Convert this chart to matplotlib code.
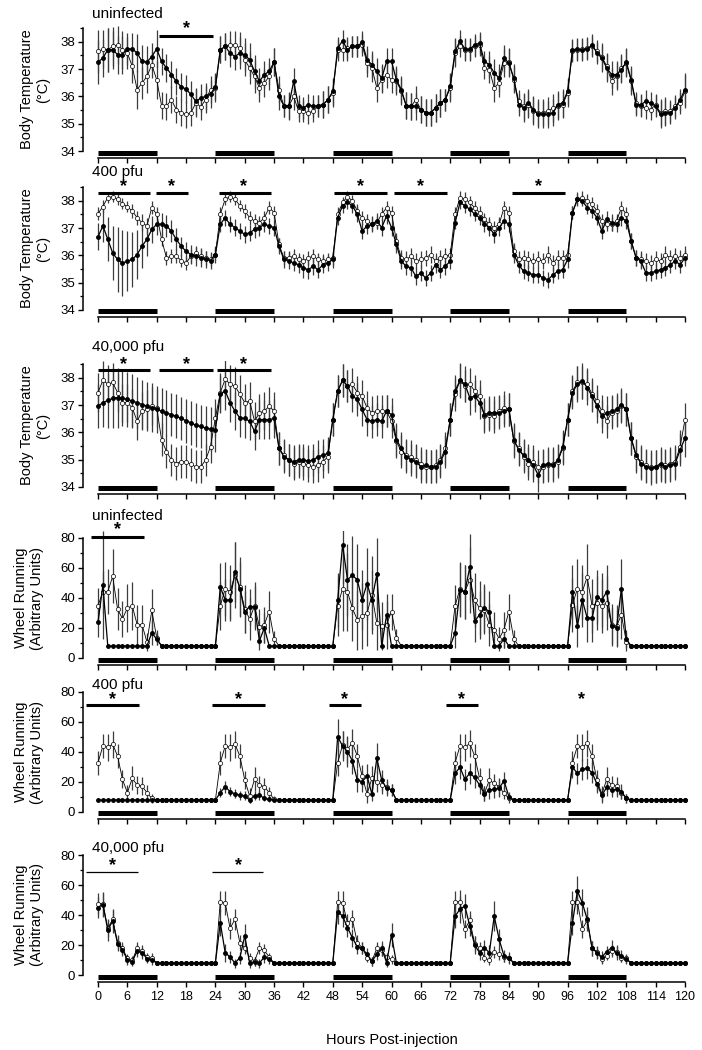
import numpy as np
import matplotlib
matplotlib.use("Agg")
import matplotlib.pyplot as plt
from matplotlib.ticker import MultipleLocator

plt.rcParams['font.family'] = ['Liberation Sans', 'DejaVu Sans']

hours = np.arange(121)
dark_start = [0, 24, 48, 72, 96]
dark_len = 12

# ---------------- body temperature (deg C), filled / open symbols
temp_uninf_f = [
    37.26, 37.40, 37.71, 37.71, 37.53, 37.53, 37.74, 37.74, 37.59, 37.28, 37.26, 37.46,
    37.74, 37.28, 37.04, 36.80, 36.55, 36.35, 36.27, 36.07, 35.82, 35.94, 36.00, 36.09,
    36.35, 37.71, 37.83, 37.59, 37.46, 37.59, 37.53, 37.34, 36.92, 36.55, 36.80, 36.92,
    37.26, 36.00, 35.66, 35.66, 36.55, 35.64, 35.58, 35.70, 35.64, 35.66, 35.70, 35.88,
    36.19, 37.77, 38.04, 37.71, 37.83, 37.83, 37.98, 37.34, 37.16, 36.92, 36.67, 37.28,
    37.28, 36.61, 36.25, 35.66, 35.64, 35.64, 35.52, 35.40, 35.40, 35.58, 35.76, 35.88,
    36.37, 37.65, 38.04, 37.73, 37.73, 37.89, 37.95, 37.28, 37.16, 36.86, 36.67, 37.40,
    37.22, 36.67, 35.70, 35.58, 35.76, 35.52, 35.34, 35.34, 35.34, 35.40, 35.70, 35.76,
    36.19, 37.71, 37.73, 37.71, 37.73, 37.89, 37.59, 37.40, 37.04, 36.80, 36.80, 36.98,
    37.26, 36.61, 35.70, 35.70, 35.82, 35.76, 35.64, 35.34, 35.40, 35.40, 35.58, 35.88,
    36.25]
temp_uninf_o = [
    37.65, 37.73, 37.71, 37.83, 37.89, 37.71, 37.59, 37.10, 36.25, 36.49, 36.73, 37.16,
    36.61, 35.66, 35.64, 35.88, 35.52, 35.40, 35.34, 35.40, 35.76, 35.62, 35.88, 36.25,
    36.30, 37.71, 37.83, 37.89, 37.89, 37.77, 37.34, 37.04, 36.73, 36.31, 36.49, 36.73,
    37.26, 36.25, 35.64, 35.64, 36.00, 35.46, 35.46, 35.40, 35.46, 35.64, 35.70, 35.88,
    36.13, 37.71, 37.71, 37.77, 37.83, 37.83, 37.89, 37.22, 37.04, 36.31, 36.61, 36.80,
    36.61, 36.55, 36.19, 35.66, 35.64, 35.88, 35.52, 35.40, 35.40, 35.58, 35.76, 35.88,
    36.31, 37.59, 37.83, 37.71, 37.71, 37.83, 37.89, 37.04, 36.98, 36.31, 36.49, 37.22,
    37.26, 36.61, 35.82, 35.64, 35.70, 35.46, 35.40, 35.40, 35.46, 35.58, 35.64, 35.70,
    36.13, 37.65, 37.71, 37.73, 37.77, 37.83, 37.65, 37.46, 37.10, 36.55, 36.73, 37.04,
    37.22, 36.55, 35.76, 35.64, 35.58, 35.52, 35.70, 35.40, 35.46, 35.46, 35.64, 35.76,
    36.19]
temp_uninf_err = [
    0.8, 0.7, 0.8, 0.7, 0.7, 0.7, 0.6, 0.6, 0.7, 0.6, 0.6, 0.5,
    0.7, 0.5, 0.5, 0.5, 0.5, 0.5, 0.5, 0.5, 0.5, 0.5, 0.5, 0.5,
    0.5, 0.5, 0.5, 0.5, 0.5, 0.6, 0.6, 0.6, 0.6, 0.5, 0.5, 0.5,
    0.5, 0.5, 0.4, 0.5, 0.5, 0.4, 0.4, 0.4, 0.4, 0.4, 0.5, 0.5,
    0.5, 0.4, 0.4, 0.4, 0.4, 0.4, 0.4, 0.5, 0.5, 0.5, 0.5, 0.5,
    0.5, 0.5, 0.5, 0.5, 0.5, 0.5, 0.5, 0.5, 0.5, 0.5, 0.5, 0.4,
    0.5, 0.5, 0.4, 0.4, 0.4, 0.4, 0.4, 0.4, 0.5, 0.5, 0.5, 0.5,
    0.5, 0.5, 0.4, 0.5, 0.5, 0.5, 0.5, 0.5, 0.5, 0.5, 0.5, 0.5,
    0.5, 0.4, 0.4, 0.4, 0.4, 0.4, 0.4, 0.5, 0.5, 0.5, 0.5, 0.5,
    0.5, 0.5, 0.4, 0.4, 0.4, 0.4, 0.4, 0.5, 0.5, 0.4, 0.4, 0.4,
    0.6]

temp_400_f = [
    36.68, 37.08, 36.59, 36.09, 35.85, 35.72, 35.79, 35.85, 36.03, 36.34, 36.59, 36.95,
    37.14, 37.14, 37.08, 36.89, 36.59, 36.34, 36.15, 36.03, 35.97, 35.91, 35.85, 35.81,
    36.03, 37.14, 37.38, 37.14, 37.02, 36.89, 36.77, 36.83, 36.95, 37.02, 37.14, 37.08,
    37.02, 36.34, 35.85, 35.81, 35.72, 35.66, 35.54, 35.48, 35.60, 35.48, 35.66, 35.72,
    35.85, 37.38, 37.82, 37.94, 37.82, 37.51, 36.89, 37.08, 37.14, 37.26, 37.02, 37.45,
    37.02, 36.40, 35.79, 35.60, 35.54, 35.23, 35.36, 35.17, 35.36, 35.66, 35.48, 35.60,
    35.79, 37.20, 37.94, 37.82, 37.69, 37.51, 37.38, 37.14, 37.02, 36.77, 37.02, 37.26,
    37.14, 36.03, 35.66, 35.42, 35.36, 35.29, 35.29, 35.17, 35.11, 35.29, 35.42, 35.48,
    35.85, 37.57, 38.06, 38.00, 37.75, 37.63, 37.38, 36.89, 37.32, 37.20, 37.14, 37.38,
    37.26, 36.52, 35.91, 35.79, 35.36, 35.36, 35.42, 35.48, 35.54, 35.66, 35.79, 35.66,
    35.91]
temp_400_o = [
    37.53, 37.79, 38.12, 38.15, 38.06, 37.90, 37.78, 37.63, 37.38, 37.20, 37.08, 37.75,
    37.51, 36.59, 35.91, 35.97, 35.97, 35.81, 35.72, 35.97, 36.09, 35.97, 35.91, 35.85,
    36.03, 37.51, 38.06, 38.15, 38.06, 37.82, 37.63, 37.38, 37.26, 37.20, 37.38, 37.75,
    37.57, 36.40, 35.91, 35.91, 35.97, 35.85, 35.79, 35.91, 35.97, 35.85, 35.79, 35.85,
    35.91, 37.51, 37.94, 38.15, 38.00, 37.63, 37.38, 37.26, 37.14, 37.20, 37.51, 37.75,
    37.57, 36.52, 35.91, 35.85, 35.97, 35.79, 35.85, 35.91, 36.03, 35.79, 35.91, 35.97,
    36.03, 37.51, 38.12, 38.06, 37.94, 37.75, 37.57, 37.32, 37.14, 37.02, 37.14, 37.75,
    37.57, 36.15, 35.85, 35.91, 35.85, 35.79, 35.85, 35.79, 36.03, 35.72, 35.91, 35.91,
    36.03, 37.57, 38.06, 38.12, 38.00, 37.88, 37.63, 37.26, 37.14, 37.14, 37.26, 37.75,
    37.51, 36.52, 35.91, 35.85, 35.79, 35.72, 35.85, 35.79, 36.03, 35.91, 35.97, 35.91,
    36.03]
temp_400_f_err = [
    0.5, 0.6, 0.8, 1.0, 1.2, 1.2, 1.1, 1.0, 0.9, 0.8, 0.6, 0.5,
    0.4, 0.4, 0.4, 0.4, 0.4, 0.35, 0.35, 0.35, 0.35, 0.35, 0.3, 0.3,
    0.3, 0.3, 0.3, 0.3, 0.3, 0.3, 0.3, 0.3, 0.3, 0.3, 0.3, 0.3,
    0.3, 0.3, 0.3, 0.3, 0.3, 0.3, 0.35, 0.35, 0.3, 0.3, 0.3, 0.3,
    0.3, 0.25, 0.25, 0.25, 0.25, 0.3, 0.3, 0.3, 0.3, 0.3, 0.3, 0.3,
    0.3, 0.3, 0.3, 0.3, 0.3, 0.3, 0.3, 0.3, 0.3, 0.3, 0.3, 0.3,
    0.3, 0.25, 0.25, 0.25, 0.25, 0.25, 0.25, 0.3, 0.3, 0.3, 0.3, 0.3,
    0.3, 0.3, 0.3, 0.3, 0.3, 0.3, 0.3, 0.3, 0.3, 0.3, 0.3, 0.3,
    0.3, 0.25, 0.2, 0.2, 0.25, 0.25, 0.25, 0.3, 0.3, 0.3, 0.3, 0.3,
    0.3, 0.3, 0.3, 0.3, 0.3, 0.3, 0.3, 0.3, 0.3, 0.3, 0.3, 0.3,
    0.3]
temp_400_o_err = [
    0.25, 0.25, 0.2, 0.2, 0.2, 0.2, 0.2, 0.25, 0.25, 0.3, 0.3, 0.25,
    0.25, 0.25, 0.25, 0.25, 0.25, 0.25, 0.25, 0.25, 0.25, 0.25, 0.25, 0.25,
    0.25, 0.25, 0.2, 0.2, 0.2, 0.2, 0.25, 0.25, 0.25, 0.25, 0.25, 0.25,
    0.25, 0.25, 0.25, 0.25, 0.25, 0.25, 0.25, 0.25, 0.25, 0.25, 0.25, 0.25,
    0.25, 0.25, 0.2, 0.2, 0.2, 0.25, 0.25, 0.25, 0.25, 0.25, 0.25, 0.25,
    0.25, 0.3, 0.3, 0.3, 0.3, 0.3, 0.3, 0.3, 0.3, 0.3, 0.3, 0.3,
    0.25, 0.25, 0.25, 0.25, 0.25, 0.25, 0.25, 0.25, 0.25, 0.25, 0.25, 0.25,
    0.25, 0.3, 0.3, 0.3, 0.3, 0.3, 0.3, 0.3, 0.3, 0.3, 0.3, 0.3,
    0.25, 0.25, 0.25, 0.25, 0.25, 0.25, 0.25, 0.25, 0.25, 0.25, 0.25, 0.25,
    0.25, 0.3, 0.3, 0.3, 0.3, 0.3, 0.3, 0.3, 0.3, 0.3, 0.3, 0.3,
    0.3]

temp_40k_f = [
    36.96, 37.09, 37.17, 37.25, 37.27, 37.25, 37.21, 37.15, 37.09, 37.02, 36.96, 36.90,
    36.84, 36.78, 36.72, 36.65, 36.59, 36.51, 36.43, 36.35, 36.26, 36.22, 36.16, 36.12,
    36.10, 37.40, 37.52, 37.09, 36.78, 36.53, 36.51, 36.41, 36.04, 36.47, 36.47, 36.47,
    36.51, 35.42, 35.11, 34.99, 34.93, 34.99, 34.99, 34.95, 34.99, 35.11, 35.17, 35.23,
    36.47, 37.52, 37.91, 37.70, 37.33, 37.21, 36.84, 36.47, 36.41, 36.47, 36.41, 36.78,
    36.65, 35.73, 35.42, 35.11, 34.99, 34.93, 34.74, 34.80, 34.74, 34.74, 34.93, 35.30,
    36.47, 37.52, 37.91, 37.77, 37.27, 37.33, 37.09, 36.65, 36.72, 36.72, 36.72, 36.78,
    36.84, 35.73, 35.36, 35.17, 34.99, 34.80, 34.43, 34.80, 34.86, 34.80, 34.99, 35.48,
    36.47, 37.46, 37.77, 37.89, 37.64, 37.33, 36.96, 36.59, 36.72, 36.78, 36.84, 37.02,
    36.84, 35.79, 35.17, 34.86, 34.74, 34.68, 34.74, 34.86, 34.74, 34.80, 34.86, 35.36,
    35.79]
temp_40k_o = [
    37.46, 37.91, 37.77, 37.83, 37.46, 37.09, 37.09, 36.90, 36.41, 36.78, 36.84, 36.96,
    36.90, 35.73, 35.30, 34.99, 34.86, 34.93, 34.93, 34.83, 34.74, 34.74, 34.99, 35.48,
    36.53, 37.46, 37.95, 37.77, 37.70, 37.40, 37.09, 37.15, 36.41, 36.72, 36.78, 36.96,
    36.78, 35.42, 35.17, 34.99, 34.86, 34.93, 34.86, 34.80, 34.74, 34.80, 34.93, 35.11,
    36.47, 37.52, 37.91, 37.70, 37.77, 37.46, 37.33, 36.90, 36.72, 36.78, 36.78, 36.78,
    36.41, 35.67, 35.30, 35.17, 35.11, 34.99, 34.86, 34.74, 34.74, 34.80, 34.99, 35.42,
    36.47, 37.40, 37.89, 37.70, 37.77, 37.52, 37.33, 36.59, 36.65, 36.59, 36.78, 36.90,
    36.84, 35.67, 35.42, 35.11, 34.86, 34.93, 34.74, 34.74, 34.80, 34.86, 34.93, 35.42,
    36.47, 37.52, 37.83, 37.83, 37.77, 37.40, 37.15, 36.78, 36.41, 36.72, 36.78, 36.96,
    36.84, 35.79, 35.11, 34.93, 34.80, 34.74, 34.74, 34.80, 34.80, 34.86, 34.93, 35.48,
    36.47]
temp_40k_f_err = [
    0.8, 0.9, 1.0, 1.1, 1.1, 1.0, 1.0, 1.0, 0.95, 0.9, 0.9, 0.9,
    0.85, 0.85, 0.85, 0.8, 0.8, 0.8, 0.8, 0.8, 0.8, 0.8, 0.8, 0.8,
    0.8, 0.7, 0.7, 0.7, 0.7, 0.7, 0.7, 0.7, 0.7, 0.7, 0.7, 0.7,
    0.7, 0.6, 0.6, 0.6, 0.6, 0.6, 0.6, 0.6, 0.6, 0.6, 0.6, 0.6,
    0.6, 0.6, 0.6, 0.6, 0.6, 0.6, 0.6, 0.6, 0.6, 0.6, 0.6, 0.6,
    0.6, 0.6, 0.6, 0.6, 0.6, 0.6, 0.6, 0.6, 0.6, 0.6, 0.6, 0.6,
    0.6, 0.6, 0.65, 0.65, 0.65, 0.6, 0.6, 0.6, 0.6, 0.6, 0.6, 0.6,
    0.6, 0.6, 0.6, 0.6, 0.6, 0.6, 0.6, 0.6, 0.6, 0.6, 0.6, 0.6,
    0.6, 0.6, 0.65, 0.65, 0.65, 0.6, 0.6, 0.6, 0.6, 0.6, 0.6, 0.6,
    0.6, 0.6, 0.6, 0.6, 0.6, 0.6, 0.6, 0.6, 0.6, 0.6, 0.6, 0.6,
    0.7]
temp_40k_o_err = [
    0.7, 0.7, 0.7, 0.7, 0.7, 0.7, 0.7, 0.7, 0.7, 0.7, 0.7, 0.7,
    0.7, 0.6, 0.6, 0.6, 0.6, 0.6, 0.6, 0.6, 0.6, 0.6, 0.6, 0.6,
    0.7, 0.7, 0.7, 0.7, 0.7, 0.7, 0.7, 0.7, 0.7, 0.7, 0.7, 0.7,
    0.7, 0.6, 0.6, 0.6, 0.6, 0.6, 0.6, 0.6, 0.6, 0.6, 0.6, 0.6,
    0.6, 0.6, 0.6, 0.6, 0.6, 0.6, 0.6, 0.6, 0.6, 0.6, 0.6, 0.6,
    0.6, 0.6, 0.6, 0.6, 0.6, 0.6, 0.6, 0.6, 0.6, 0.6, 0.6, 0.6,
    0.6, 0.6, 0.6, 0.6, 0.6, 0.6, 0.6, 0.6, 0.6, 0.6, 0.6, 0.6,
    0.6, 0.6, 0.6, 0.6, 0.6, 0.6, 0.6, 0.6, 0.6, 0.6, 0.6, 0.6,
    0.6, 0.6, 0.6, 0.6, 0.6, 0.6, 0.6, 0.6, 0.6, 0.6, 0.6, 0.6,
    0.6, 0.6, 0.6, 0.6, 0.6, 0.6, 0.6, 0.6, 0.6, 0.6, 0.6, 0.6,
    0.6]

# ---------------- wheel running (arbitrary units), filled / open symbols
wheel_uninf_f = [
    23.8, 48.5, 8, 8, 8, 8, 8, 8, 8, 8, 8, 16.8,
    12.5, 8, 8, 8, 8, 8, 8, 8, 8, 8, 8, 8,
    8, 47.4, 38.7, 38.7, 57.3, 46.3, 31.0, 34.3, 34.3, 11.4, 20.1, 8,
    8, 8, 8, 8, 8, 8, 8, 8, 8, 8, 8, 8,
    8, 38.7, 75.4, 52.2, 55.1, 52.2, 38.7, 49.6, 38.7, 55.7, 8, 28.9,
    8, 8, 8, 8, 8, 8, 8, 8, 8, 8, 8, 8,
    8, 16.8, 45.2, 44.2, 60.5, 24.5, 28.9, 33.2, 31.0, 8, 8, 12.9,
    8, 8, 8, 8, 8, 8, 8, 8, 8, 8, 8, 8,
    8, 44.2, 21.2, 38.7, 26.7, 26.7, 40.9, 38.7, 44.2, 21.6, 20.1, 46.3,
    12.5, 8, 8, 8, 8, 8, 8, 8, 8, 8, 8, 8,
    8]
wheel_uninf_o = [
    34.8, 44.2, 44.2, 54.4, 32.6, 26.2, 33.2, 34.8, 22.3, 22.3, 10.7, 31.7,
    13.6, 8, 8, 8, 8, 8, 8, 8, 8, 8, 8, 8,
    8, 34.8, 46.3, 44.2, 55.1, 47.4, 32.6, 26.0, 34.8, 20.8, 22.3, 31.0,
    12.9, 8, 8, 8, 8, 8, 8, 8, 8, 8, 8, 8,
    8, 34.8, 46.3, 44.2, 33.2, 25.6, 27.8, 29.9, 42.0, 23.4, 21.6, 22.3,
    31.0, 13.6, 8, 8, 8, 8, 8, 8, 8, 8, 8, 8,
    8, 34.8, 46.3, 44.2, 52.2, 38.7, 33.2, 32.1, 22.3, 19.0, 12.9, 19.0,
    31.0, 12.9, 8, 8, 8, 8, 8, 8, 8, 8, 8, 8,
    8, 35.4, 46.3, 44.2, 54.0, 34.8, 36.5, 34.8, 36.9, 22.1, 21.2, 28.9,
    10.7, 8, 8, 8, 8, 8, 8, 8, 8, 8, 8, 8,
    8]
wheel_uninf_f_err = [
    10, 36, 0, 0, 0, 0, 0, 0, 0, 0, 0, 8,
    4, 0, 0, 0, 0, 0, 0, 0, 0, 0, 0, 0,
    0, 16, 14, 14, 20, 18, 14, 12, 14, 6, 10, 0,
    0, 0, 0, 0, 0, 0, 0, 0, 0, 0, 0, 0,
    0, 18, 26, 24, 26, 24, 20, 24, 20, 24, 0, 14,
    0, 0, 0, 0, 0, 0, 0, 0, 0, 0, 0, 0,
    0, 10, 18, 18, 22, 14, 16, 16, 14, 0, 0, 6,
    0, 0, 0, 0, 0, 0, 0, 0, 0, 0, 0, 0,
    0, 18, 14, 18, 16, 16, 18, 18, 18, 12, 12, 20,
    6, 0, 0, 0, 0, 0, 0, 0, 0, 0, 0, 0,
    0]
wheel_uninf_o_err = [
    12, 14, 15, 18, 14, 12, 16, 16, 13, 13, 6, 14,
    5, 0, 0, 0, 0, 0, 0, 0, 0, 0, 0, 0,
    0, 16, 18, 18, 22, 20, 16, 14, 16, 12, 12, 14,
    5, 0, 0, 0, 0, 0, 0, 0, 0, 0, 0, 0,
    0, 20, 28, 26, 22, 20, 22, 22, 26, 18, 16, 16,
    12, 6, 0, 0, 0, 0, 0, 0, 0, 0, 0, 0,
    0, 14, 18, 18, 22, 18, 18, 16, 14, 12, 8, 12,
    12, 6, 0, 0, 0, 0, 0, 0, 0, 0, 0, 0,
    0, 18, 20, 18, 22, 18, 18, 18, 18, 14, 14, 16,
    6, 0, 0, 0, 0, 0, 0, 0, 0, 0, 0, 0,
    0]

wheel_400_f = [
    8, 8, 8, 8, 8, 8, 8, 8, 8, 8, 8, 8,
    8, 8, 8, 8, 8, 8, 8, 8, 8, 8, 8, 8,
    8, 12.9, 16.9, 13.6, 12.0, 11.3, 10.7, 8.0, 10.7, 11.3, 9.1, 8.4,
    8, 8, 8, 8, 8, 8, 8, 8, 8, 8, 8, 8,
    8, 50.2, 44.0, 40.2, 34.2, 21.3, 20.2, 24.0, 12.0, 35.8, 21.3, 15.8,
    14.7, 8, 8, 8, 8, 8, 8, 8, 8, 8, 8, 8,
    8, 25.8, 29.8, 21.8, 25.8, 23.1, 18.0, 12.0, 14.7, 15.1, 15.8, 20.9,
    10.2, 8, 8, 8, 8, 8, 8, 8, 8, 8, 8, 8,
    8, 29.8, 25.8, 28.4, 29.1, 26.2, 18.7, 11.3, 16.4, 14.7, 15.1, 13.6,
    9.1, 8, 8, 8, 8, 8, 8, 8, 8, 8, 8, 8,
    8]
wheel_400_o = [
    32.9, 44.0, 43.1, 45.3, 37.3, 21.8, 12.9, 22.4, 18.0, 17.3, 12.9, 9.1,
    8, 8, 8, 8, 8, 8, 8, 8, 8, 8, 8, 8,
    8, 32.9, 44.0, 43.1, 45.3, 37.3, 21.3, 10.7, 21.8, 18.0, 16.9, 12.9,
    8.4, 8, 8, 8, 8, 8, 8, 8, 8, 8, 8, 8,
    8, 32.9, 44.7, 41.8, 46.2, 37.3, 24.0, 12.0, 22.4, 20.2, 18.0, 16.9,
    14.7, 8, 8, 8, 8, 8, 8, 8, 8, 8, 8, 8,
    8, 32.9, 44.0, 43.1, 45.8, 37.3, 22.4, 12.4, 21.3, 19.1, 16.9, 12.4,
    9.1, 8, 8, 8, 8, 8, 8, 8, 8, 8, 8, 8,
    8, 32.9, 44.0, 43.1, 45.8, 37.3, 21.3, 12.0, 21.8, 18.0, 17.3, 12.9,
    9.1, 8, 8, 8, 8, 8, 8, 8, 8, 8, 8, 8,
    8]
wheel_400_f_err = [
    0, 0, 0, 0, 0, 0, 0, 0, 0, 0, 0, 0,
    0, 0, 0, 0, 0, 0, 0, 0, 0, 0, 0, 0,
    0, 3, 4, 3, 3, 3, 3, 2, 3, 3, 2, 2,
    0, 0, 0, 0, 0, 0, 0, 0, 0, 0, 0, 0,
    0, 12, 10, 10, 9, 8, 7, 8, 5, 10, 7, 5,
    4, 0, 0, 0, 0, 0, 0, 0, 0, 0, 0, 0,
    0, 7, 8, 7, 7, 7, 6, 5, 6, 6, 6, 6,
    3, 0, 0, 0, 0, 0, 0, 0, 0, 0, 0, 0,
    0, 7, 7, 7, 7, 7, 6, 5, 6, 5, 5, 5,
    3, 0, 0, 0, 0, 0, 0, 0, 0, 0, 0, 0,
    0]
wheel_400_o_err = [
    8, 8, 9, 9, 8, 6, 5, 8, 6, 6, 5, 3,
    0, 0, 0, 0, 0, 0, 0, 0, 0, 0, 0, 0,
    0, 8, 8, 9, 9, 8, 6, 5, 8, 6, 6, 4,
    2, 0, 0, 0, 0, 0, 0, 0, 0, 0, 0, 0,
    0, 9, 9, 9, 9, 8, 7, 6, 8, 7, 6, 5,
    4, 0, 0, 0, 0, 0, 0, 0, 0, 0, 0, 0,
    0, 8, 8, 9, 9, 8, 7, 5, 8, 6, 6, 4,
    3, 0, 0, 0, 0, 0, 0, 0, 0, 0, 0, 0,
    0, 8, 8, 9, 9, 8, 7, 5, 8, 6, 6, 4,
    3, 0, 0, 0, 0, 0, 0, 0, 0, 0, 0, 0,
    0]

wheel_40k_f = [
    45.0, 47.0, 30.0, 36.0, 21.0, 17.0, 10.0, 9.0, 16.0, 15.0, 11.0, 10.0,
    8, 8, 8, 8, 8, 8, 8, 8, 8, 8, 8, 8,
    8, 34.9, 14.9, 12.0, 8.0, 11.6, 26.0, 8.0, 8.9, 8.0, 12.0, 10.4,
    8, 8, 8, 8, 8, 8, 8, 8, 8, 8, 8, 8,
    8, 42.2, 39.3, 31.6, 24.9, 18.7, 17.8, 13.8, 9.3, 13.8, 17.8, 8.2,
    26.7, 8, 8, 8, 8, 8, 8, 8, 8, 8, 8, 8,
    8, 39.3, 43.8, 46.0, 32.7, 20.0, 14.9, 18.2, 14.9, 39.3, 23.8, 12.7,
    11.6, 8, 8, 8, 8, 8, 8, 8, 8, 8, 8, 8,
    8, 34.9, 56.0, 48.2, 37.1, 17.8, 14.9, 12.0, 15.6, 18.2, 14.9, 12.7,
    10.4, 8, 8, 8, 8, 8, 8, 8, 8, 8, 8, 8,
    8]
wheel_40k_o = [
    47.6, 47.6, 31.1, 37.1, 21.6, 17.8, 11.1, 9.8, 17.8, 16.0, 12.0, 11.6,
    8, 8, 8, 8, 8, 8, 8, 8, 8, 8, 8, 8,
    8, 48.9, 48.2, 31.1, 37.1, 21.6, 18.2, 11.6, 9.3, 17.8, 16.4, 12.0,
    8, 8, 8, 8, 8, 8, 8, 8, 8, 8, 8, 8,
    8, 48.9, 48.2, 34.9, 37.1, 21.6, 18.2, 11.6, 9.3, 17.8, 16.4, 12.0,
    10.4, 8, 8, 8, 8, 8, 8, 8, 8, 8, 8, 8,
    8, 48.9, 48.9, 30.4, 36.4, 20.9, 17.8, 11.6, 9.8, 15.6, 13.8, 12.0,
    11.1, 8, 8, 8, 8, 8, 8, 8, 8, 8, 8, 8,
    8, 48.9, 48.9, 30.4, 36.4, 17.8, 15.6, 10.4, 12.7, 16.0, 15.6, 11.6,
    11.1, 8, 8, 8, 8, 8, 8, 8, 8, 8, 8, 8,
    8]
wheel_40k_f_err = [
    7, 8, 7, 8, 5, 4, 3, 3, 4, 4, 3, 3,
    0, 0, 0, 0, 0, 0, 0, 0, 0, 0, 0, 0,
    0, 9, 6, 4, 3, 4, 8, 3, 3, 3, 4, 3,
    0, 0, 0, 0, 0, 0, 0, 0, 0, 0, 0, 0,
    0, 8, 7, 6, 6, 5, 4, 4, 3, 4, 5, 3,
    8, 0, 0, 0, 0, 0, 0, 0, 0, 0, 0, 0,
    0, 8, 9, 8, 7, 6, 5, 5, 5, 10, 7, 4,
    4, 0, 0, 0, 0, 0, 0, 0, 0, 0, 0, 0,
    0, 8, 10, 9, 8, 5, 4, 4, 4, 5, 5, 4,
    3, 0, 0, 0, 0, 0, 0, 0, 0, 0, 0, 0,
    0]
wheel_40k_o_err = [
    7, 8, 6, 6, 5, 4, 3, 3, 4, 4, 3, 3,
    0, 0, 0, 0, 0, 0, 0, 0, 0, 0, 0, 0,
    0, 7, 8, 7, 7, 5, 4, 3, 3, 4, 4, 3,
    0, 0, 0, 0, 0, 0, 0, 0, 0, 0, 0, 0,
    0, 7, 8, 6, 6, 5, 4, 3, 3, 4, 4, 3,
    3, 0, 0, 0, 0, 0, 0, 0, 0, 0, 0, 0,
    0, 7, 8, 6, 6, 5, 4, 3, 3, 4, 4, 3,
    3, 0, 0, 0, 0, 0, 0, 0, 0, 0, 0, 0,
    0, 7, 8, 6, 6, 5, 4, 3, 3, 4, 4, 3,
    3, 0, 0, 0, 0, 0, 0, 0, 0, 0, 0, 0,
    0]

# significance bars (hours) and asterisk positions (hours)
sig_temp_uninf = [(12.5, 23.5)]
star_temp_uninf = [18.0]
sig_temp_400 = [(0, 10.7), (11.9, 18.3), (24.7, 35.4), (48.2, 59.0), (60.6, 71.3), (84.7, 95.5)]
star_temp_400 = [5.3, 15.0, 29.8, 53.6, 66.0, 90.0]
sig_temp_40k = [(0, 10.7), (12.5, 23.5), (24.4, 35.3)]
star_temp_40k = [5.3, 18.0, 29.7]
sig_wheel_uninf = [(-1.5, 9.5)]
star_wheel_uninf = [4.0]
sig_wheel_400 = [(-2.5, 8.3), (23.3, 34.1), (47.2, 53.8), (71.2, 77.6)]
star_wheel_400 = [2.9, 28.7, 50.4, 74.3, 98.9]
sig_wheel_40k = [(-2.5, 8.1), (23.3, 33.8)]
star_wheel_40k = [2.9, 28.7]

panels = [
    dict(label='uninfected', f=temp_uninf_f, fe=temp_uninf_err, o=temp_uninf_o, oe=temp_uninf_err,
         sig=sig_temp_uninf, stars=star_temp_uninf),
    dict(label='400 pfu', f=temp_400_f, fe=temp_400_f_err, o=temp_400_o, oe=temp_400_o_err,
         sig=sig_temp_400, stars=star_temp_400),
    dict(label='40,000 pfu', f=temp_40k_f, fe=temp_40k_f_err, o=temp_40k_o, oe=temp_40k_o_err,
         sig=sig_temp_40k, stars=star_temp_40k),
    dict(label='uninfected', f=wheel_uninf_f, fe=wheel_uninf_f_err, o=wheel_uninf_o, oe=wheel_uninf_o_err,
         sig=sig_wheel_uninf, stars=star_wheel_uninf),
    dict(label='400 pfu', f=wheel_400_f, fe=wheel_400_f_err, o=wheel_400_o, oe=wheel_400_o_err,
         sig=sig_wheel_400, stars=star_wheel_400),
    dict(label='40,000 pfu', f=wheel_40k_f, fe=wheel_40k_f_err, o=wheel_40k_o, oe=wheel_40k_o_err,
         sig=sig_wheel_40k, stars=star_wheel_40k),
]

# layout (pixels of the 702x1050 canvas)
W, H = 702.0, 1050.0
x_lo, x_hi = -3.1, 120.5
px_hr = 4.8917
ax_left = 98 + x_lo * px_hr

temp_style = dict(ppu=27.3, lowest=34, lo=33.733, hi=38.6, top=38.5, major=[34, 35, 36, 37, 38], minor=0.5,
                  ylabel='Body Temperature\n(°C)', ylab_x=35)
wheel_style = dict(ppu=1.5, lowest=0, lo=-4.87, hi=85, top=80, major=[0, 20, 40, 60, 80], minor=10,
                   ylabel='Wheel Running\n(Arbitrary Units)', ylab_x=29)

layouts = [
    dict(temp_style, base=151, label_y=39.0, sig_y=38.22, star_y=38.48, sig_lw=2.2),
    dict(temp_style, base=310, label_y=39.07, sig_y=38.30, star_y=38.52, sig_lw=2.2),
    dict(temp_style, base=487, label_y=39.14, sig_y=38.29, star_y=38.5, sig_lw=2.2),
    dict(wheel_style, base=658, label_y=95, sig_y=80.5, star_y=85.5, sig_lw=2.2),
    dict(wheel_style, base=812, label_y=85, sig_y=71, star_y=75, sig_lw=2.2),
    dict(wheel_style, base=975, label_y=84.5, sig_y=69, star_y=73, sig_lw=0.9),
]

fig = plt.figure(figsize=(7.02, 10.5), dpi=100)

for i, (p, L) in enumerate(zip(panels, layouts)):
    bottom_px = L['base'] + (L['lowest'] - L['lo']) * L['ppu']
    top_px = L['base'] - (L['hi'] - L['lowest']) * L['ppu']
    ax = fig.add_axes([ax_left / W, 1 - bottom_px / H, (x_hi - x_lo) * px_hr / W, (bottom_px - top_px) / H])
    ax.set_xlim(x_lo, x_hi)
    ax.set_ylim(L['lo'], L['hi'])

    ax.errorbar(hours, p['o'], yerr=p['oe'], fmt='none', ecolor='#3c3c3c', elinewidth=0.9, capsize=0, zorder=1)
    ax.errorbar(hours, p['f'], yerr=p['fe'], fmt='none', ecolor='#3c3c3c', elinewidth=0.9, capsize=0, zorder=1)
    ax.plot(hours, p['o'], '-o', color='k', lw=0.6, ms=3.0, mfc='white', mec='k', mew=0.5, zorder=3, clip_on=False)
    ax.plot(hours, p['f'], '-o', color='k', lw=0.9, ms=2.5, zorder=4, clip_on=False)

    bar_y = L['lowest'] - 1.5 / L['ppu']
    for s in dark_start:
        ax.plot([s, s + dark_len], [bar_y, bar_y], color='k', lw=3.6, solid_capstyle='butt', clip_on=False)

    for a, b in p['sig']:
        ax.plot([a, b], [L['sig_y'], L['sig_y']], color='k', lw=L['sig_lw'], solid_capstyle='butt', clip_on=False)
    for s in p['stars']:
        ax.text(s, L['star_y'], '*', ha='center', va='center', fontsize=13, fontweight='bold')

    ax.text(-1.3, L['label_y'], p['label'], ha='left', va='center', fontsize=11)

    for s in ['top', 'right']:
        ax.spines[s].set_visible(False)
    ax.spines['left'].set_bounds(L['lowest'], L['top'])
    ax.spines['bottom'].set_bounds(0, 120)
    ax.spines['left'].set_linewidth(1.1)
    ax.spines['bottom'].set_linewidth(1.1)

    ax.set_xticks(np.arange(0, 121, 6))
    ax.set_yticks(L['major'])
    ax.yaxis.set_minor_locator(MultipleLocator(L['minor']))
    ax.tick_params(which='major', direction='out', length=3.5, width=1.0, labelsize=9.5, pad=2)
    ax.tick_params(which='minor', direction='out', length=2, width=0.9)
    ax.tick_params(axis='x', labelsize=9, pad=3)
    if i < len(panels) - 1:
        ax.tick_params(labelbottom=False)

    mid_px = L['base'] - (L['top'] - L['lowest']) * L['ppu'] / 2
    fig.text(L['ylab_x'] / W, 1 - mid_px / H, L['ylabel'], rotation=90, ha='center', va='center',
             fontsize=10.5, multialignment='center', linespacing=1.25)

fig.text((98 + 60 * px_hr) / W, 1 - 1040 / H, 'Hours Post-injection', ha='center', va='center', fontsize=10.5)

fig.savefig('out.png', dpi=100)
